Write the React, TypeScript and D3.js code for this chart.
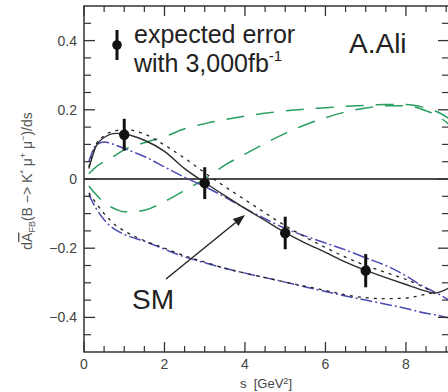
import React from "react";
import * as d3 from "d3";

// Sampling grid in s [GeV^2]
const sGrid = [0.12, 0.3, 0.5, 0.8, 1.0, 1.5, 2.0, 2.5, 3.0, 3.5, 4.0, 4.5, 5.0, 5.5, 6.0, 6.5, 7.0, 7.5, 8.0, 8.5, 8.7, 9.07];

// Standard Model prediction (solid)
const smCentral = [0.03, 0.095, 0.12, 0.132, 0.13, 0.112, 0.08, 0.03, -0.01, -0.048, -0.085, -0.12, -0.155, -0.185, -0.212, -0.24, -0.264, -0.285, -0.305, -0.324, -0.33, -0.315];
// Upper dotted variant
const dotUpper = [0.035, 0.1, 0.125, 0.14, 0.143, 0.13, 0.098, 0.06, 0.018, -0.022, -0.06, -0.098, -0.135, -0.168, -0.198, -0.226, -0.25, -0.27, -0.29, -0.316, -0.328, null];
// Upper blue dash-dot variant
const blueUpper = [0.05, 0.098, 0.107, 0.097, 0.088, 0.065, 0.035, 0.005, -0.022, -0.052, -0.085, -0.115, -0.143, -0.165, -0.185, -0.205, -0.228, -0.25, -0.28, -0.315, -0.326, -0.35];
// Lower dotted variant
const dotLower = [-0.04, -0.07, -0.1, -0.135, -0.15, -0.178, -0.2, -0.222, -0.24, -0.258, -0.272, -0.285, -0.298, -0.31, -0.322, -0.335, -0.343, -0.346, -0.344, -0.333, -0.328, null];
// Lower blue dash-dot variant
const blueLower = [-0.045, -0.085, -0.118, -0.148, -0.16, -0.18, -0.203, -0.225, -0.242, -0.258, -0.272, -0.285, -0.298, -0.312, -0.325, -0.338, -0.35, -0.362, -0.374, -0.388, -0.392, -0.402];
// Green dashed variants
const greenUpper = [0.015, 0.035, 0.05, 0.07, 0.085, 0.105, 0.122, 0.145, 0.16, 0.172, 0.182, 0.19, 0.197, 0.202, 0.206, 0.21, 0.213, 0.215, 0.215, 0.205, 0.198, 0.175];
const greenLower = [-0.02, -0.045, -0.068, -0.088, -0.095, -0.09, -0.065, -0.033, 0.0, 0.04, 0.072, 0.103, 0.132, 0.157, 0.177, 0.194, 0.205, 0.212, 0.212, 0.197, 0.188, 0.158];

// Expected measurements with 3,000 fb^-1
const dataS = [1, 3, 5, 7];
const dataA = [0.128, -0.012, -0.156, -0.265];
const dataErr = [0.046, 0.046, 0.047, 0.048];

// Axis ticks
const xMajorTicks = [0, 2, 4, 6, 8];
const yMajorTicks = [-0.4, -0.2, 0, 0.2, 0.4];

const W = 448;
const H = 392;
const left = 84;
const right = 449;
const top = 6;
const bottom = 352;

const FONT = "'Liberation Sans', Arial, Helvetica, sans-serif";

export default function App() {
  const x = d3.scaleLinear().domain([0, 9.07]).range([left, right]);
  const y = d3.scaleLinear().domain([-0.5, 0.5]).range([bottom, top]);

  const mk = (vals: (number | null)[]) =>
    d3
      .line<number>()
      .defined((_, i) => vals[i] !== null)
      .x((s) => x(s))
      .y((_, i) => y(vals[i] as number))
      .curve(d3.curveMonotoneX)(sGrid) || "";

  const xMinor = d3.range(0.5, 9.05, 0.5).filter((v) => !xMajorTicks.includes(v));
  const yMinor = d3.range(-0.45, 0.5, 0.05).map((v) => Math.round(v * 100) / 100).filter((v) => !yMajorTicks.includes(v));

  const green = "#2a9f62";
  const blue = "#4b4bb2";
  const dark = "#2e2e2e";

  const curves = [
    { vals: greenUpper, stroke: green, dash: "18 12", w: 1.5 },
    { vals: greenLower, stroke: green, dash: "18 12", w: 1.5 },
    { vals: blueLower, stroke: blue, dash: "12 3 2 3", w: 1.5 },
    { vals: dotLower, stroke: "#222", dash: "3 5", w: 1.3 },
    { vals: blueUpper, stroke: blue, dash: "12 3 2 3", w: 1.5 },
    { vals: dotUpper, stroke: "#222", dash: "3 5", w: 1.3 },
    { vals: smCentral, stroke: dark, dash: undefined, w: 1.4 },
  ];

  // arrow pointing at the SM curve
  const ax0 = 166, ay0 = 279, ax1 = 245, ay1 = 215;
  const ang = Math.atan2(ay1 - ay0, ax1 - ax0);
  const hl = 12, hw = 4.5;
  const bx = ax1 - hl * Math.cos(ang), by = ay1 - hl * Math.sin(ang);
  const head = [
    [ax1, ay1],
    [bx + hw * Math.sin(ang), by - hw * Math.cos(ang)],
    [bx - hw * Math.sin(ang), by + hw * Math.cos(ang)],
  ];

  return (
    <svg width={W} height={H} style={{ position: "absolute", left: 0, top: 0, background: "#fff" }} fontFamily={FONT}>
      <defs>
        <clipPath id="plotArea">
          <rect x={left} y={top} width={right - left} height={bottom - top} />
        </clipPath>
      </defs>

      {/* zero line */}
      <line x1={left} x2={right} y1={y(0)} y2={y(0)} stroke="#111" strokeWidth={1.3} />

      <g clipPath="url(#plotArea)" fill="none">
        {curves.map((c, i) => (
          <path key={i} d={mk(c.vals)} stroke={c.stroke} strokeWidth={c.w} strokeDasharray={c.dash} />
        ))}
      </g>

      {/* data points with error bars */}
      {dataS.map((s, i) => (
        <g key={i}>
          <line x1={x(s)} x2={x(s)} y1={y(dataA[i] + dataErr[i])} y2={y(dataA[i] - dataErr[i])} stroke="#111" strokeWidth={3} />
          <circle cx={x(s)} cy={y(dataA[i])} r={5.2} fill="#111" />
        </g>
      ))}

      {/* frame */}
      <rect x={left} y={top} width={right - left} height={bottom - top} fill="none" stroke="#333" strokeWidth={1.5} />

      {/* x ticks, bottom and top */}
      {xMajorTicks.map((t) => (
        <g key={"xm" + t}>
          <line x1={x(t)} x2={x(t)} y1={bottom} y2={bottom - 10} stroke="#333" strokeWidth={1.3} />
          <line x1={x(t)} x2={x(t)} y1={top} y2={top + 10} stroke="#333" strokeWidth={1.3} />
          <text x={x(t)} y={369} textAnchor="middle" fontSize={14} fill="#444">{t}</text>
        </g>
      ))}
      {xMinor.map((t) => (
        <g key={"xn" + t}>
          <line x1={x(t)} x2={x(t)} y1={bottom} y2={bottom - 6} stroke="#333" strokeWidth={1.2} />
          <line x1={x(t)} x2={x(t)} y1={top} y2={top + 6} stroke="#333" strokeWidth={1.2} />
        </g>
      ))}

      {/* y ticks, left and right */}
      {yMajorTicks.map((t) => (
        <g key={"ym" + t}>
          <line x1={left} x2={left + 11} y1={y(t)} y2={y(t)} stroke="#333" strokeWidth={1.3} />
          <line x1={right} x2={right - 11} y1={y(t)} y2={y(t)} stroke="#333" strokeWidth={1.3} />
          <text x={77} y={y(t) + 5} textAnchor="end" fontSize={14} fill="#444">
            {t === 0 ? "0" : (t < 0 ? "\u2212" : "") + Math.abs(t).toFixed(1)}
          </text>
        </g>
      ))}
      {yMinor.map((t) => (
        <g key={"yn" + t}>
          <line x1={left} x2={left + 7} y1={y(t)} y2={y(t)} stroke="#333" strokeWidth={1.2} />
          <line x1={right} x2={right - 7} y1={y(t)} y2={y(t)} stroke="#333" strokeWidth={1.2} />
        </g>
      ))}

      {/* axis titles */}
      <text x={266} y={388} textAnchor="middle" fontSize={13} fill="#444">
        s {"\u00a0"}[GeV<tspan fontSize={9} dy={-4}>2</tspan><tspan dy={4}>]</tspan>
      </text>
      <text transform="translate(32,181) rotate(-90)" textAnchor="middle" fontSize={14} fill="#555">
        d<tspan textDecoration="overline">A</tspan>
        <tspan fontSize={9} dy={3}>FB</tspan>
        <tspan dy={-3}>(B {"\u2212>"} K</tspan>
        <tspan fontSize={9} dy={-6}>*</tspan>
        <tspan dy={6}> {"\u03bc"}</tspan>
        <tspan fontSize={9} dy={-6}>+</tspan>
        <tspan dy={6}> {"\u03bc"}</tspan>
        <tspan fontSize={9} dy={-6}>{"\u2212"}</tspan>
        <tspan dy={6}>)/ds</tspan>
      </text>

      {/* legend */}
      <line x1={117} x2={117} y1={30} y2={60} stroke="#111" strokeWidth={3} />
      <circle cx={117} cy={45} r={4.8} fill="#111" />
      <text x={134} y={43} fontSize={25} fill="#222">expected error</text>
      <text x={134} y={72} fontSize={25} fill="#222">
        with 3,000fb<tspan fontSize={15} dy={-11}>-1</tspan>
      </text>
      <text x={349} y={53} fontSize={28} fill="#222">A.Ali</text>

      {/* SM annotation */}
      <text x={132} y={309} fontSize={28} fill="#222">SM</text>
      <line x1={ax0} y1={ay0} x2={bx} y2={by} stroke="#222" strokeWidth={1.4} />
      <polygon points={head.map((p) => p.join(",")).join(" ")} fill="#222" />
    </svg>
  );
}
